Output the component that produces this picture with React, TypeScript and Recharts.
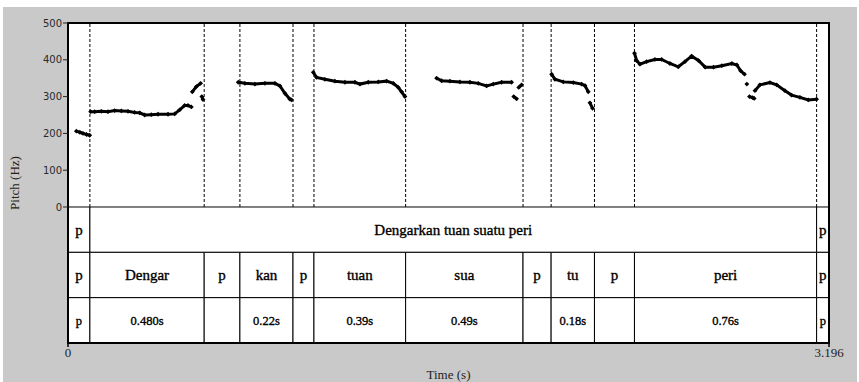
import React from 'react';
import { ComposedChart, Line, XAxis, YAxis, ReferenceArea, ReferenceLine } from 'recharts';

// Pitch track (s, Hz); null marks a break in the contour
const pitchTimes: number[] = [
  0.035, 0.050, 0.063, 0.078, 0.091, 0.093,
  0.095, 0.112, 0.140, 0.168, 0.196, 0.224, 0.252, 0.280, 0.301, 0.322, 0.350, 0.378, 0.420, 0.448, 0.469, 0.490, 0.504, 0.518, 0.520,
  0.522, 0.539, 0.557, 0.560,
  0.562, 0.567, 0.640,
  0.715, 0.743, 0.785, 0.827, 0.869, 0.890, 0.911, 0.932, 0.939, 0.985,
  1.030, 1.044, 1.079, 1.121, 1.163, 1.205, 1.226, 1.261, 1.303, 1.338, 1.366, 1.387, 1.401, 1.415, 1.480,
  1.548, 1.569, 1.604, 1.646, 1.688, 1.723, 1.758, 1.786, 1.821, 1.863, 1.868,
  1.872, 1.884, 1.888,
  1.893, 1.905, 1.970,
  2.031, 2.045, 2.080, 2.122, 2.157, 2.171, 2.185, 2.188,
  2.192, 2.203, 2.290,
  2.379, 2.388, 2.402, 2.430, 2.465, 2.493, 2.528, 2.563, 2.591, 2.619, 2.648, 2.676, 2.711, 2.746, 2.788, 2.809, 2.825, 2.841, 2.846,
  2.851, 2.856,
  2.862, 2.875, 2.882, 2.883,
  2.885, 2.906, 2.948, 2.976, 3.011, 3.039, 3.074, 3.109, 3.144,
];
const pitchHz: (number | null)[] = [
  206, 203, 200, 197, 195, null,
  259, 259, 260, 259, 262, 261, 260, 257, 256, 250, 251, 252, 252, 253, 264, 276, 276, 272, null,
  313, 327, 336, null,
  300, 292, null,
  339, 336, 334, 336, 336, 329, 309, 293, 291, null,
  366, 352, 347, 342, 339, 339, 334, 339, 340, 342, 336, 325, 313, 300, null,
  350, 343, 342, 340, 339, 336, 329, 334, 339, 339, null,
  300, 294, null,
  325, 332, null,
  361, 347, 340, 338, 334, 330, 313, null,
  283, 268, null,
  418, 398, 388, 395, 401, 401, 390, 381, 395, 410, 398, 380, 380, 384, 390, 386, 370, 361, null,
  334, null,
  300, 297, 295, null,
  316, 332, 338, 332, 316, 304, 298, 291, 293,
];

// TextGrid tiers
const phraseBounds = [0, 0.092, 3.144, 3.196];
const phraseLabels = ['p', 'Dengarkan tuan suatu peri', 'p'];
const syllableBounds = [0, 0.092, 0.572, 0.722, 0.945, 1.033, 1.418, 1.911, 2.029, 2.211, 2.379, 3.144, 3.196];
const syllableLabels = ['p', 'Dengar', 'p', 'kan', 'p', 'tuan', 'sua', 'p', 'tu', 'p', 'peri', 'p'];
const durationLabels = ['p', '0.480s', '', '0.22s', '', '0.39s', '0.49s', '', '0.18s', '', '0.76s', 'p'];

const pitchTicks = [0, 100, 200, 300, 400, 500];
const timeTicks = [0, 3.196];

const T_MAX = 3.196;
const P_MAX = 500;
const P_MIN = -369.6; // room below 0 Hz for the three tiers
const TIER_TOP = 3 * (P_MAX - P_MIN) / -P_MIN;

const rows = pitchTimes.map((t, i) => ({ t, hz: pitchHz[i] }));

const SERIF = '"Liberation Serif", "Times New Roman", serif';

const Diamond = (props: any) => {
  const { cx, cy, index } = props;
  if (cx == null || cy == null || props.value == null) return <g key={`d${index}`} />;
  const r = 2.4;
  return (
    <path
      key={`d${index}`}
      d={`M${cx},${cy - r}L${cx + r},${cy}L${cx},${cy + r}L${cx - r},${cy}Z`}
      fill="#000"
    />
  );
};

const PitchLabel = (props: any) => {
  const vb = props.viewBox || {};
  const x = (vb.x || 0) + 14;
  const y = (vb.y || 0) + (vb.height || 0) / 2;
  return (
    <text
      x={x}
      y={y}
      transform={`rotate(-90, ${x}, ${y})`}
      textAnchor="middle"
      dominantBaseline="central"
      style={{ fontFamily: SERIF, fontSize: 13 }}
      fill="#222"
    >
      Pitch (Hz)
    </text>
  );
};

function tierCells(bounds: number[], labels: string[], y1: number, fontSize: number, prefix: string) {
  return labels.map((lab, i) => (
    <ReferenceArea
      key={`${prefix}${i}`}
      yAxisId="tier"
      x1={bounds[i]}
      x2={bounds[i + 1]}
      y1={y1}
      y2={y1 + 1}
      fill="#fff"
      fillOpacity={1}
      stroke="#000"
      strokeWidth={1}
      strokeOpacity={1}
      ifOverflow="visible"
      label={{
        value: lab,
        position: 'center',
        fill: '#000',
        stroke: '#000',
        strokeWidth: 0.35,
        fontSize,
        fontFamily: SERIF,
      }}
    />
  ));
}

export default function App() {
  const dashed = syllableBounds.slice(1, -1);
  return (
    <div style={{ position: 'absolute', left: 0, top: 0, width: 859, height: 382, background: '#fff' }}>
      <div style={{ position: 'absolute', left: 3, top: 7, width: 854, height: 375, background: '#c9c9c9' }} />
      <div style={{ position: 'absolute', left: 0, top: 0 }}>
        <ComposedChart
          width={859}
          height={382}
          data={rows}
          margin={{ top: 23, right: 30, bottom: 0, left: 0 }}
        >
          <XAxis
            dataKey="t"
            type="number"
            domain={[0, T_MAX]}
            ticks={timeTicks}
            interval={0}
            allowDataOverflow
            height={39}
            tickSize={4}
            tickMargin={1}
            axisLine={{ stroke: '#000', strokeWidth: 2 }}
            tickLine={{ stroke: '#000', strokeWidth: 1.5 }}
            tick={{ fill: '#222', fontSize: 13, fontFamily: SERIF }}
            tickFormatter={(v: number) => (v === 0 ? '0' : v.toFixed(3))}
            label={{ value: 'Time (s)', position: 'insideBottom', offset: 3, fill: '#222', fontSize: 13, fontFamily: SERIF }}
          />
          <YAxis
            yAxisId="pitch"
            type="number"
            domain={[P_MIN, P_MAX]}
            ticks={pitchTicks}
            interval={0}
            allowDataOverflow
            width={68}
            tickSize={5}
            tickMargin={1}
            axisLine={{ stroke: '#000', strokeWidth: 2 }}
            tickLine={{ stroke: '#222', strokeWidth: 1 }}
            tick={{ fill: '#2a2a2a', fontSize: 10, fontFamily: '"DejaVu Sans", sans-serif' }}
            label={<PitchLabel />}
          />
          <YAxis yAxisId="tier" type="number" domain={[0, TIER_TOP]} hide allowDataOverflow />

          <ReferenceArea
            yAxisId="pitch"
            x1={0}
            x2={T_MAX}
            y1={0}
            y2={P_MAX}
            fill="#fff"
            fillOpacity={1}
            stroke="none"
            ifOverflow="visible"
          />

          {tierCells(phraseBounds, phraseLabels, 2, 15, 'ph')}
          {tierCells(syllableBounds, syllableLabels, 1, 15, 'sy')}
          {tierCells(syllableBounds, durationLabels, 0, 12.5, 'du')}

          {dashed.map((b, i) => (
            <ReferenceLine
              key={`dl${i}`}
              yAxisId="pitch"
              segment={[{ x: b, y: 0 }, { x: b, y: P_MAX }]}
              stroke="#000"
              strokeWidth={1}
              strokeDasharray="3 2"
              ifOverflow="visible"
            />
          ))}

          <ReferenceArea
            yAxisId="pitch"
            x1={0}
            x2={T_MAX}
            y1={P_MIN}
            y2={P_MAX}
            fill="none"
            stroke="#000"
            strokeWidth={2}
            ifOverflow="visible"
          />

          <Line
            yAxisId="pitch"
            dataKey="hz"
            stroke="#000"
            strokeWidth={3}
            connectNulls={false}
            dot={Diamond}
            activeDot={false}
            isAnimationActive={false}
          />
        </ComposedChart>
      </div>
    </div>
  );
}
